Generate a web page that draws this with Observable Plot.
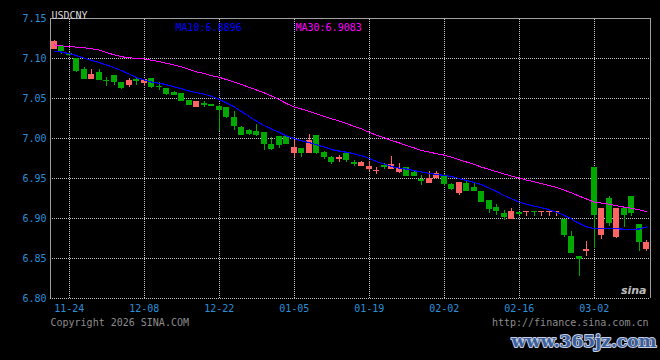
<!DOCTYPE html>
<html>
<head>
<meta charset="utf-8">
<script src="https://cdn.jsdelivr.net/npm/d3@7"></script>
<script src="https://cdn.jsdelivr.net/npm/@observablehq/plot@0.6"></script>
<style>
  html, body { margin: 0; padding: 0; background: #000; }
  #chart svg { display: block; }
</style>
</head>
<body>
<div id="chart"></div>
<script>
const dates = ["11-20","11-21","11-24","11-25","11-26","11-27","11-28","12-01","12-02","12-03",
  "12-04","12-05","12-08","12-09","12-10","12-11","12-12","12-15","12-16","12-17",
  "12-18","12-19","12-22","12-23","12-24","12-25","12-26","12-29","12-30","12-31",
  "01-01","01-02","01-05","01-06","01-07","01-08","01-09","01-12","01-13","01-14",
  "01-15","01-16","01-19","01-20","01-21","01-22","01-23","01-26","01-27","01-28",
  "01-29","01-30","02-02","02-03","02-04","02-05","02-06","02-09","02-10","02-11",
  "02-12","02-13","02-16","02-17","02-18","02-19","02-20","02-23","02-24","02-25",
  "02-26","02-27","03-02","03-03","03-04","03-05","03-06","03-09","03-10","03-11"];

const open = [7.1125,7.1145,7.1055,7.1000,7.0854,7.0745,7.0813,7.0725,7.0783,7.0695,
  7.0665,7.0735,7.0688,7.0738,7.0650,7.0613,7.0575,7.0554,7.0466,7.0391,
  7.0433,7.0420,7.0395,7.0379,7.0254,7.0129,7.0088,7.0083,7.0065,6.9916,
  7.0016,7.0015,6.9825,6.9870,6.9825,7.0029,6.9825,6.9758,6.9742,6.9804,
  6.9692,6.9654,6.9613,6.9588,6.9658,6.9625,6.9583,6.9637,6.9570,6.9483,
  6.9450,6.9510,6.9533,6.9425,6.9313,6.9429,6.9383,6.9333,6.9216,6.9133,
  6.9054,6.8991,6.9075,6.9078,6.9084,6.9078,6.9078,6.9078,6.8979,6.8771,
  6.8520,6.8595,6.9633,6.8791,6.9241,6.8770,6.9116,6.9266,6.8916,6.8616];
const high = [7.1225,7.1150,7.1070,7.1005,7.0883,7.0866,7.0860,7.0758,7.0790,7.0705,
  7.0750,7.0750,7.0735,7.0745,7.0700,7.0615,7.0590,7.0556,7.0470,7.0460,
  7.0458,7.0425,7.0408,7.0391,7.0338,7.0154,7.0116,7.0179,7.0079,7.0016,
  7.0020,7.0030,6.9970,6.9875,7.0054,7.0035,6.9840,6.9770,6.9787,6.9815,
  6.9729,6.9716,6.9708,6.9633,6.9688,6.9779,6.9688,6.9640,6.9583,6.9540,
  6.9583,6.9583,6.9545,6.9433,6.9455,6.9479,6.9441,6.9335,6.9220,6.9179,
  6.9104,6.9125,6.9080,6.9084,6.9086,6.9084,6.9084,6.9084,6.8980,6.8833,
  6.8525,6.8716,6.9635,6.9120,6.9270,6.9120,6.9120,6.9279,6.8920,6.8720];
const low = [7.1110,7.1055,7.1020,7.0830,7.0745,7.0740,7.0725,7.0645,7.0666,7.0613,
  7.0640,7.0666,7.0654,7.0625,7.0595,7.0540,7.0535,7.0460,7.0410,7.0390,
  7.0383,7.0400,7.0091,7.0254,7.0096,7.0033,7.0033,7.0030,6.9854,6.9854,
  6.9870,6.9920,6.9760,6.9766,6.9813,6.9800,6.9740,6.9680,6.9700,6.9700,
  6.9646,6.9646,6.9583,6.9554,6.9616,6.9610,6.9563,6.9520,6.9530,6.9416,
  6.9438,6.9490,6.9395,6.9350,6.9290,6.9340,6.9335,6.9195,6.9063,6.9041,
  6.8979,6.8990,6.9035,6.9020,6.9020,6.9020,6.9020,6.9020,6.8766,6.8560,
  6.8279,6.8520,6.8625,6.8735,6.8896,6.8745,6.8890,6.9020,6.8590,6.8583];
const close = [7.1208,7.1095,7.1040,7.0841,7.0745,7.0791,7.0729,7.0715,7.0705,7.0633,
  7.0715,7.0725,7.0729,7.0638,7.0645,7.0560,7.0545,7.0470,7.0420,7.0454,
  7.0413,7.0408,7.0358,7.0263,7.0154,7.0045,7.0054,7.0040,6.9929,6.9866,
  6.9916,6.9930,6.9883,6.9820,6.9966,6.9815,6.9770,6.9708,6.9758,6.9729,
  6.9684,6.9695,6.9645,6.9595,6.9650,6.9666,6.9625,6.9529,6.9533,6.9475,
  6.9490,6.9560,6.9429,6.9375,6.9445,6.9345,6.9341,6.9208,6.9116,6.9091,
  6.9020,6.9079,6.9060,6.9084,6.9078,6.9084,6.9084,6.9084,6.8791,6.8570,
  6.8488,6.8610,6.9050,6.9116,6.8938,6.9116,6.9041,6.9070,6.8708,6.8691];

const ma10 = [7.1090,7.1080,7.1060,7.1035,7.1005,7.0975,7.0950,7.0918,7.0885,7.0848,
  7.0805,7.0760,7.0732,7.0705,7.0690,7.0672,7.0645,7.0620,7.0595,7.0572,
  7.0555,7.0525,7.0490,7.0440,7.0395,7.0335,7.0275,7.0215,7.0160,7.0118,
  7.0075,7.0030,6.9998,6.9970,6.9950,6.9920,6.9895,6.9862,6.9843,6.9828,
  6.9808,6.9785,6.9750,6.9712,6.9680,6.9650,6.9628,6.9618,6.9598,6.9580,
  6.9565,6.9550,6.9538,6.9525,6.9498,6.9475,6.9450,6.9422,6.9380,6.9335,
  6.9285,6.9245,6.9205,6.9178,6.9155,6.9135,6.9108,6.9078,6.9040,6.8990,
  6.8938,6.8895,6.8872,6.8874,6.8875,6.8872,6.8866,6.8866,6.8868,6.8896];
const ma30 = [7.1170,7.1158,7.1150,7.1142,7.1133,7.1122,7.1105,7.1075,7.1045,7.1022,
  7.1008,7.1002,7.0995,7.0978,7.0960,7.0940,7.0918,7.0895,7.0862,7.0832,
  7.0812,7.0785,7.0765,7.0735,7.0705,7.0675,7.0638,7.0605,7.0570,7.0530,
  7.0485,7.0435,7.0393,7.0368,7.0340,7.0308,7.0275,7.0245,7.0218,7.0185,
  7.0152,7.0118,7.0078,7.0040,7.0008,6.9975,6.9945,6.9912,6.9882,6.9850,
  6.9830,6.9810,6.9792,6.9765,6.9735,6.9705,6.9675,6.9642,6.9613,6.9585,
  6.9555,6.9530,6.9505,6.9480,6.9458,6.9435,6.9412,6.9388,6.9355,6.9318,
  6.9280,6.9242,6.9205,6.9192,6.9178,6.9160,6.9142,6.9128,6.9108,6.9083];

const yTicks = [6.80, 6.85, 6.90, 6.95, 7.00, 7.05, 7.10, 7.15];
const xTickLabels = ["11-24","12-08","12-22","01-05","01-19","02-02","02-16","03-02"];
const title = "USDCNY";
const ma10Label = "MA10:6.8896";
const ma30Label = "MA30:6.9083";
const copyright = "Copyright 2026 SINA.COM";
const siteUrl = "http://finance.sina.com.cn";
const watermark = "www.365jz.com";

const UP = "#ff6464", DOWN = "#00a800";
const candles = dates.map((d, i) => ({i, date: d, open: open[i], high: high[i], low: low[i], close: close[i]}));
const colorOf = d => d.close > d.open ? UP : DOWN;
const tickIdx = xTickLabels.map(l => dates.indexOf(l));
const axisBlue = "#2b8fd8";

const chart = Plot.plot({
  width: 660,
  height: 360,
  marginLeft: 50,
  marginRight: 10,
  marginTop: 18,
  marginBottom: 62,
  style: {background: "#000", fontFamily: "'DejaVu Sans Mono', monospace", fontSize: "10px", color: "#ccc", shapeRendering: "crispEdges"},
  x: {type: "linear", domain: [-0.5, dates.length - 0.5], axis: null},
  y: {domain: [6.80, 7.15], axis: null},
  marks: [
    // horizontal dotted grid
    Plot.ruleY(yTicks.slice(0, -1), {stroke: "#c8c8c8", strokeDasharray: "1,1", strokeWidth: 1}),
    // vertical dotted grid
    Plot.ruleX(tickIdx, {x: d => d, y1: 6.80, y2: 7.15, stroke: "#c8c8c8", strokeDasharray: "1,1", strokeWidth: 1}),
    // wicks
    Plot.ruleX(candles, {x: "i", y1: "low", y2: "high", stroke: colorOf, strokeWidth: 1}),
    // bodies
    Plot.rect(candles, {x1: d => d.i - 0.4, x2: d => d.i + 0.4, y1: "open", y2: "close", fill: colorOf, insetTop: -0.5, insetBottom: -0.5}),
    // moving averages
    Plot.lineY(ma30, {x: (d, i) => i, y: d => d, stroke: "#ff00ff", strokeWidth: 1, curve: "linear"}),
    Plot.lineY(ma10, {x: (d, i) => i, y: d => d, stroke: "#0000ff", strokeWidth: 1.2, curve: "linear"}),
    // frame: left, top, right
    Plot.ruleX([-0.5, dates.length - 0.5], {y1: 6.80, y2: 7.15, stroke: "#a0a0a0", strokeWidth: 1.5}),
    Plot.ruleY([7.15], {stroke: "#a0a0a0", strokeWidth: 1.5}),
    // y tick labels
    Plot.text(yTicks, {y: d => d, frameAnchor: "left", dx: -4, textAnchor: "end", text: d => d.toFixed(2), fill: axisBlue, fontSize: 10}),
    // x tick labels
    Plot.text(tickIdx, {x: d => d, frameAnchor: "bottom", dy: 13, text: d => dates[d], fill: axisBlue, fontSize: 10}),
    // title and MA labels
    Plot.text([title], {frameAnchor: "top-left", dx: 1, dy: -7, textAnchor: "start", text: d => d, fill: "#d8d8d8", fontSize: 10}),
    Plot.text([ma10Label], {frameAnchor: "top-left", dx: 125, dy: 5, textAnchor: "start", text: d => d, fill: "#0000ff", fontSize: 10}),
    Plot.text([ma30Label], {frameAnchor: "top-left", dx: 245, dy: 5, textAnchor: "start", text: d => d, fill: "#ff00ff", fontSize: 10}),
    // sina logo watermark
    Plot.text(["sina"], {frameAnchor: "bottom-right", dx: -4, dy: -5, textAnchor: "end", text: d => d, fill: "#dddddd", fontSize: 11, fontStyle: "italic", fontWeight: "bold", fontFamily: "'DejaVu Sans', sans-serif", opacity: 0.85}),
    // footer
    Plot.text([copyright], {frameAnchor: "bottom-left", dx: 0, dy: 27, textAnchor: "start", text: d => d, fill: "#8c8c8c", fontSize: 10}),
    Plot.text([siteUrl], {frameAnchor: "bottom-right", dx: -2, dy: 27, textAnchor: "end", text: d => d, fill: "#8c8c8c", fontSize: 10}),
    Plot.text([watermark], {frameAnchor: "bottom-right", dx: 6, dy: 48, textAnchor: "end", text: d => d, fill: "#3b5f9e", stroke: "#c8d0e0", strokeWidth: 2, paintOrder: "stroke", fontSize: 17, fontWeight: "bold", fontFamily: "'DejaVu Serif', serif"})
  ]
});
document.getElementById("chart").appendChild(chart);
</script>
</body>
</html>
